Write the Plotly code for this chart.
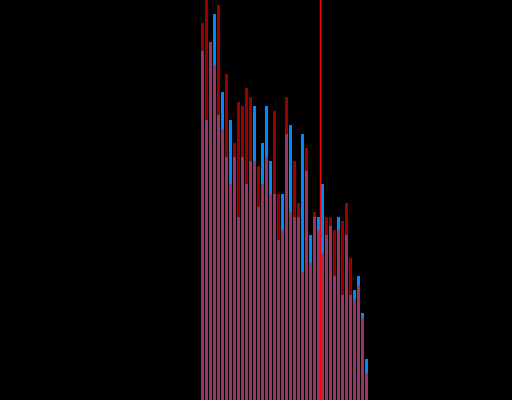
import plotly.graph_objects as go

bins = list(range(42))
red_values = [377, 405, 358, 335, 395, 271, 326, 216, 257, 298, 294, 312, 303, 239,
              234, 216, 243, 206, 289, 206, 170, 303, 188, 239, 197, 128, 252, 137,
              188, 170, 147, 183, 183, 170, 170, 179, 197, 142, 101, 114, 82, 27]
blue_values = [349, 280, 358, 386, 285, 308, 243, 280, 243, 183, 243, 216, 239, 294,
               193, 257, 294, 239, 206, 160, 206, 266, 275, 183, 183, 266, 229, 165,
               183, 183, 216, 165, 174, 124, 183, 105, 165, 105, 110, 124, 87, 41]
threshold = 29.5

fig = go.Figure()
fig.add_trace(go.Bar(x=bins, y=blue_values, marker=dict(color="rgb(0,136,255)", line=dict(width=0))))
fig.add_trace(go.Bar(x=bins, y=red_values, marker=dict(color="rgb(255,0,0)", line=dict(width=0)), opacity=0.6))

fig.add_shape(type="line", x0=threshold, x1=threshold, y0=0, y1=1, xref="x", yref="paper",
              line=dict(color="rgb(255,0,0)", width=1.5), layer="above")

fig.update_layout(
    width=512, height=400,
    margin=dict(l=0, r=0, t=0, b=0),
    paper_bgcolor="black", plot_bgcolor="black",
    barmode="overlay", bargap=0.25,
    showlegend=False,
    xaxis=dict(visible=False, range=[-50.625, 77.375]),
    yaxis=dict(visible=False, range=[0, 400]),
)
fig.write_html(
    "out.html",
    config={"displayModeBar": False},
    post_script="document.body.style.margin='0';document.body.style.background='black';",
)
